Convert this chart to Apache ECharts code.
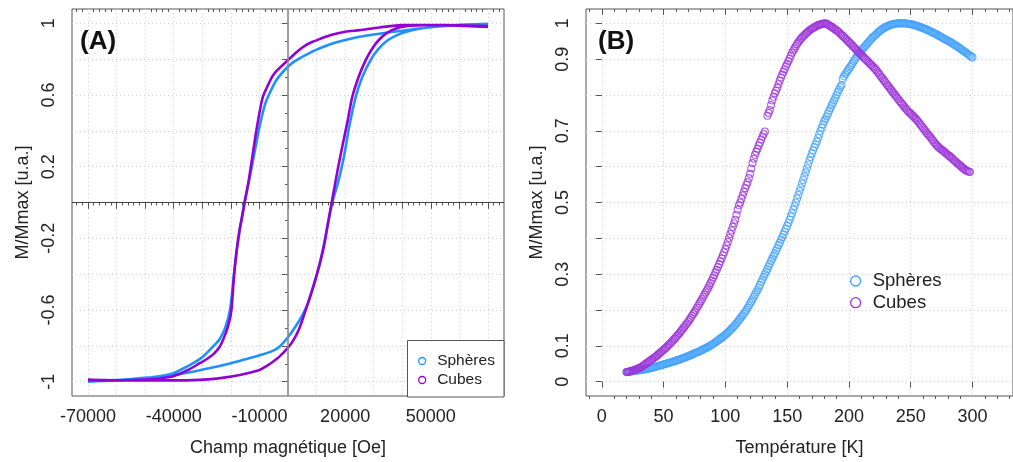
<!DOCTYPE html>
<html><head><meta charset="utf-8">
<script src="https://cdn.jsdelivr.net/npm/echarts@6.0.0/dist/echarts.min.js"></script>
<style>html,body{margin:0;padding:0;background:#fff}#c{width:1013px;height:462px}</style>
</head><body><div id="c"></div><script>
// ---------- Panel A : hysteresis loops (field in Oe, normalized magnetization) ----------
const sphDownField = [70000,65000,60000,55000,50000,45000,40000,35000,30000,25000,20000,15000,10000,7000,4000,2000,0,-2000,-4000,-6000,-8000,-10000,-12000,-13500,-15200,-16900,-18700,-20300,-22000,-24000,-26300,-29700,-32000,-35500,-40200,-45000,-50000,-55000,-60000,-65000,-70000];
const sphDownMag   = [0.995,0.994,0.992,0.986,0.978,0.969,0.959,0.949,0.938,0.925,0.907,0.885,0.853,0.83,0.805,0.785,0.758,0.725,0.685,0.625,0.55,0.42,0.255,0.13,0.0,-0.15,-0.37,-0.6,-0.70,-0.765,-0.805,-0.86,-0.885,-0.917,-0.953,-0.97,-0.98,-0.988,-0.993,-0.996,-1.0];
const sphUpField   = [-70000,-62000,-55000,-48000,-42000,-38000,-32000,-26000,-20000,-15000,-9000,-5000,-3000,0,2800,5000,7000,9000,11000,13000,15500,17500,19500,21500,23700,26000,28900,31500,35000,39000,43000,48000,55000,62000,70000];
const sphUpMag     = [-1.0,-0.993,-0.985,-0.975,-0.965,-0.957,-0.94,-0.92,-0.897,-0.875,-0.848,-0.825,-0.805,-0.752,-0.688,-0.63,-0.56,-0.46,-0.35,-0.2,0.0,0.11,0.25,0.43,0.59,0.70,0.795,0.855,0.907,0.94,0.96,0.975,0.986,0.993,0.997];
const cubDownField = [70000,62000,55000,48000,40000,32000,25000,20000,15000,11000,8600,6000,3900,2000,0,-2000,-4000,-5400,-7000,-8800,-10000,-11500,-13000,-14000,-15200,-16000,-17000,-18000,-19000,-19800,-20800,-22300,-23900,-26000,-28500,-30900,-35000,-40200,-45000,-50000,-57000,-63000,-70000];
const cubDownMag   = [0.98,0.985,0.99,0.99,0.99,0.977,0.962,0.953,0.935,0.912,0.897,0.876,0.851,0.825,0.795,0.765,0.735,0.705,0.655,0.59,0.5,0.36,0.2,0.1,0.0,-0.075,-0.16,-0.27,-0.43,-0.6,-0.68,-0.75,-0.805,-0.845,-0.875,-0.897,-0.935,-0.97,-0.982,-0.988,-0.992,-0.993,-0.99];
const cubUpField   = [-70000,-60000,-50000,-40000,-30900,-25000,-19300,-14600,-10000,-7700,-5400,-3000,0,2000,3900,6300,8600,10900,12500,13800,15300,17000,19000,20800,22500,24800,27200,29500,31800,34500,37600,42000,48000,55000,62000,70000];
const cubUpMag     = [-0.99,-0.992,-0.993,-0.993,-0.99,-0.983,-0.97,-0.955,-0.935,-0.915,-0.89,-0.86,-0.81,-0.765,-0.706,-0.595,-0.484,-0.354,-0.25,-0.132,0.0,0.15,0.313,0.45,0.59,0.705,0.795,0.86,0.907,0.945,0.97,0.985,0.99,0.99,0.988,0.985];

// ---------- Panel B : M(T) curves, one reading per kelvin ----------
const sphTemps = [
  20,21,22,23,24,25,26,27,28,29, 30,31,32,33,34,35,36,37,38,39, 40,41,42,43,44,45,46,47,48,49,
  50,51,52,53,54,55,56,57,58,59, 60,61,62,63,64,65,66,67,68,69, 70,71,72,73,74,75,76,77,78,79,
  80,81,82,83,84,85,86,87,88,89, 90,91,92,93,94,95,96,97,98,99, 100,101,102,103,104,105,106,107,108,109,
  110,111,112,113,114,115,116,117,118,119, 120,121,122,123,124,125,126,127,128,129, 130,131,132,133,134,135,136,137,138,139,
  140,141,142,143,144,145,146,147,148,149, 150,151,152,153,154,155,156,157,158,159, 160,161,162,163,164,165,166,167,168,169,
  170,171,172,173,174,175,176,177,178,179, 180,181,182,183,184,185,186,187,188,189, 190,191,192,193,194,195,196,197,198,199,
  200,201,202,203,204,205,206,207,208,209, 210,211,212,213,214,215,216,217,218,219, 220,221,222,223,224,225,226,227,228,229,
  230,231,232,233,234,235,236,237,238,239, 240,241,242,243,244,245,246,247,248,249, 250,251,252,253,254,255,256,257,258,259,
  260,261,262,263,264,265,266,267,268,269, 270,271,272,273,274,275,276,277,278,279, 280,281,282,283,284,285,286,287,288,289,
  290,291,292,293,294,295,296,297,298,299, 300];
const sphMag = [
  .027,.027,.028,.028,.029,.029,.030,.030,.031,.031, .032,.032,.033,.033,.034,.035,.035,.036,.037,.037, .038,.039,.040,.041,.042,.043,.044,.045,.046,.047,
  .048,.049,.050,.051,.052,.053,.054,.055,.056,.057, .058,.060,.061,.062,.063,.065,.066,.067,.068,.070, .071,.073,.074,.076,.077,.079,.080,.082,.083,.085,
  .086,.088,.090,.092,.093,.095,.097,.099,.101,.103, .105,.108,.110,.113,.115,.118,.120,.123,.125,.128, .131,.134,.137,.141,.144,.148,.151,.155,.159,.163,
  .167,.172,.176,.181,.185,.190,.195,.200,.206,.212, .218,.224,.230,.237,.243,.250,.256,.263,.270,.278, .285,.293,.300,.307,.314,.322,.329,.337,.344,.351,
  .358,.366,.373,.381,.388,.396,.403,.411,.419,.427, .435,.443,.452,.461,.470,.480,.490,.500,.511,.521, .532,.542,.553,.563,.573,.584,.595,.606,.617,.627,
  .637,.646,.655,.662,.670,.680,.690,.700,.709,.718, .727,.733,.740,.748,.756,.763,.771,.778,.785,.792, .800,.808,.815,.822,.828,.845,.852,.858,.863,.868,
  .873,.878,.883,.889,.895,.900,.905,.910,.915,.920, .924,.928,.932,.936,.940,.944,.948,.952,.956,.960, .963,.966,.969,.973,.976,.979,.981,.984,.986,.988,
  .990,.992,.993,.995,.996,.997,.998,.999,.999,1.000, 1.000,1.000,1.000,1.000,1.000,1.000,1.000,.999,.999,.998, .998,.997,.996,.995,.994,.993,.992,.990,.989,.988,
  .987,.985,.984,.982,.981,.979,.977,.976,.974,.972, .971,.969,.967,.965,.963,.961,.959,.957,.955,.953, .952,.950,.948,.946,.944,.941,.939,.937,.935,.932,
  .930,.927,.925,.922,.920,.917,.915,.912,.910,.907, .905];
const cubTemps = [
  20,21,22,23,24,25,26,27,28,29, 30,31,32,33,34,35,36,37,38,39, 40,41,42,43,44,45,46,47,48,49,
  50,51,52,53,54,55,56,57,58,59, 60,61,62,63,64,65,66,67,68,69, 70,71,72,73,74,75,76,77,78,79,
  80,81,82,83,84,85,86,87,88,89, 90,91,92,93,94,95,96,97,98,99, 100,101,102,103,104,105,106,107,108,109,
  110,111,112,113,114,115,116,117,118,119, 120,121,122,123,124,125,126,127,128,129, 130,131,132,134,135,136,137,138,139,
  140,141,142,143,144,145,146,147,148,149, 150,151,152,153,154,155,156,157,158,159, 160,161,162,163,164,165,166,167,168,169,
  170,171,172,173,174,175,176,177,178,179, 180,181,182,183,184,185,186,187,188,189, 190,191,192,193,194,195,196,197,198,199,
  200,201,202,203,204,205,206,207,208,209, 210,211,212,213,214,215,216,217,218,219, 220,221,222,223,224,225,226,227,228,229,
  230,231,232,233,234,235,236,237,238,239, 240,241,242,243,244,245,246,247,248,249, 250,251,252,253,254,255,256,257,258,259,
  260,261,262,263,264,265,266,267,268,269, 270,271,272,273,274,275,276,277,278,279, 280,281,282,283,284,285,286,287,288,289,
  290,291,292,293,294,295,296,297,298];
const cubMag = [
  .027,.027,.028,.029,.030,.031,.032,.033,.035,.036, .038,.039,.041,.043,.046,.048,.051,.053,.056,.058, .061,.063,.066,.068,.071,.074,.077,.080,.083,.086,
  .089,.092,.095,.098,.102,.105,.109,.113,.117,.120, .124,.128,.132,.136,.141,.145,.150,.154,.159,.163, .168,.173,.178,.184,.189,.194,.200,.206,.212,.218,
  .224,.230,.237,.243,.249,.255,.261,.268,.275,.282, .290,.297,.305,.312,.320,.328,.336,.344,.353,.361, .370,.380,.390,.401,.412,.422,.432,.442,.452,.466,
  .480,.492,.500,.510,.520,.530,.540,.549,.557,.568, .580,.595,.610,.622,.633,.642,.650,.659,.667,.676, .684,.691,.698,.742,.750,.758,.772,.785,.795,
  .805,.812,.820,.830,.840,.849,.857,.865,.872,.880, .887,.895,.902,.910,.918,.924,.930,.936,.942,.947, .952,.956,.960,.964,.967,.971,.974,.977,.980,.983,
  .985,.987,.989,.991,.993,.995,.996,.997,.998,.999, 1.000,1.000,.999,.997,.994,.992,.990,.988,.985,.983, .980,.978,.975,.971,.968,.965,.962,.958,.955,.951,
  .948,.944,.941,.937,.934,.930,.926,.923,.919,.915, .912,.908,.905,.901,.898,.894,.891,.887,.884,.880, .877,.873,.870,.865,.861,.856,.851,.847,.842,.838,
  .833,.828,.824,.819,.815,.810,.806,.801,.797,.792, .788,.783,.779,.775,.771,.766,.762,.758,.754,.751, .748,.744,.741,.737,.734,.730,.726,.721,.717,.712,
  .708,.703,.699,.694,.690,.686,.682,.677,.673,.668, .664,.660,.656,.653,.650,.647,.645,.642,.639,.636, .633,.630,.628,.625,.622,.618,.615,.612,.609,.606,
  .603,.600,.597,.594,.591,.589,.588,.586,.585];

// ---------- ticks & labels ----------
const fieldTicks  = [-70000,-60000,-50000,-40000,-30000,-20000,-10000,0,10000,20000,30000,40000,50000,60000,70000];
const fieldLabels = [-70000,-40000,-10000,20000,50000];
const magTicksA   = [-1,-0.8,-0.6,-0.4,-0.2,0,0.2,0.4,0.6,0.8,1];
const magLabelsA  = [-1,-0.6,-0.2,0.2,0.6,1];
const tempTicks   = [0,50,100,150,200,250,300];
const tempLabels  = [0,50,100,150,200,250,300];
const magTicksB   = [0,0.1,0.2,0.3,0.4,0.5,0.6,0.7,0.8,0.9,1];
const magLabelsB  = [0,0.1,0.3,0.5,0.7,0.9,1];

function minorList(lo, hi, step, major) {
  const out = [];
  const n = Math.round((hi - lo) / step);
  for (let i = 0; i <= n; i++) {
    const v = Math.round((lo + i * step) * 1e6) / 1e6;
    const q = v / major;
    if (Math.abs(q - Math.round(q)) > 1e-6) out.push(v);
  }
  return out;
}
const pairs = (xs, ys) => ys.map((y, i) => [xs[i], y]);

const FONT = 'Liberation Sans, Arial, sans-serif';
const AX = '#555', TXT = '#222', GRIDC = '#cdcdcd';
const BLUE = '#1E90FF', PURPLE = '#9400D3';
const BLUEB = '#45A2FF', PURPLEB = '#9E35D8';

function xAxisDef(grid, min, max, pos, ticks, len, inside, labels, split, name) {
  return {
    type: 'value', gridIndex: grid, min: min, max: max, position: pos,
    axisLine: { show: false },
    axisTick: { show: true, customValues: ticks, length: len, inside: inside, lineStyle: { color: AX, width: 1 } },
    axisLabel: labels ? { show: true, customValues: labels, fontSize: 18, color: TXT, fontFamily: FONT, margin: 12, formatter: v => String(v) } : { show: false },
    splitLine: { show: !!split, lineStyle: { type: [1, 3], color: GRIDC, width: 1 } },
    name: name || '', nameLocation: 'middle', nameGap: 43,
    nameTextStyle: { fontSize: 18, color: TXT, fontFamily: FONT }
  };
}
function yAxisDef(grid, min, max, pos, ticks, len, inside, labels, split, name) {
  return {
    type: 'value', gridIndex: grid, min: min, max: max, position: pos,
    axisLine: { show: false },
    axisTick: { show: true, customValues: ticks, length: len, inside: inside, lineStyle: { color: AX, width: 1 } },
    axisLabel: labels ? { show: true, customValues: labels, rotate: 90, fontSize: 18, color: TXT, fontFamily: FONT, margin: 14, formatter: v => String(v) } : { show: false },
    splitLine: { show: !!split, lineStyle: { type: [1, 3], color: GRIDC, width: 1 } },
    name: name || '', nameLocation: 'middle', nameGap: 40, nameRotate: 90,
    nameTextStyle: { fontSize: 18, color: TXT, fontFamily: FONT }
  };
}

const fMin = -75600, fMax = 75600;
const tMin = -12.8, tMax = 332.8;

const option = {
  animation: false,
  backgroundColor: '#fff',
  grid: [
    { left: 72, top: 9, width: 432, height: 388, show: true, borderColor: AX, borderWidth: 1, backgroundColor: 'rgba(0,0,0,0)', containLabel: false },
    { left: 586, top: 9, width: 434, height: 388, show: true, borderColor: AX, borderWidth: 1, backgroundColor: 'rgba(0,0,0,0)', containLabel: false }
  ],
  xAxis: [
    xAxisDef(0, fMin, fMax, 'bottom', fieldTicks, 6, false, fieldLabels, true, 'Champ magnétique [Oe]'),
    xAxisDef(0, fMin, fMax, 'bottom', minorList(-74000, 74000, 2000, 10000), 3, false, null, false),
    xAxisDef(0, fMin, fMax, 'top', fieldTicks, 6, true, null, false),
    xAxisDef(0, fMin, fMax, 'top', minorList(-74000, 74000, 2000, 10000), 3, true, null, false),
    xAxisDef(1, tMin, tMax, 'bottom', tempTicks, 6, false, tempLabels, true, 'Température [K]'),
    xAxisDef(1, tMin, tMax, 'bottom', minorList(-10, 330, 10, 50), 3, false, null, false),
    xAxisDef(1, tMin, tMax, 'top', tempTicks, 6, true, null, false),
    xAxisDef(1, tMin, tMax, 'top', minorList(-10, 330, 10, 50), 3, true, null, false)
  ],
  yAxis: [
    yAxisDef(0, -1.08, 1.08, 'left', magTicksA, 6, false, magLabelsA, true, 'M/Mmax [u.a.]'),
    yAxisDef(0, -1.08, 1.08, 'right', magTicksA, 5, true, null, false),
    yAxisDef(0, -1.08, 1.08, 'right', minorList(-1, 1, 0.1, 0.2), 3, true, null, false),
    yAxisDef(1, -0.04, 1.04, 'left', magTicksB, 6, false, magLabelsB, true, 'M/Mmax [u.a.]')
  ],
  graphic: [
    { type: 'text', left: 80, top: 29, z: 10, style: { text: '(A)', font: 'bold 26px ' + FONT, fill: '#111' } },
    { type: 'text', left: 598, top: 29, z: 10, style: { text: '(B)', font: 'bold 26px ' + FONT, fill: '#111' } },
    { type: 'rect', z: 3, shape: { x: 407.5, y: 340.5, width: 96.5, height: 56.5 }, style: { fill: '#fff', stroke: AX, lineWidth: 1 } }
  ],
  legend: [
    {
      orient: 'vertical', left: 418, top: 353, padding: 0, itemGap: 3, itemWidth: 20, itemHeight: 7, z: 5,
      selectedMode: false, icon: 'circle',
      textStyle: { fontSize: 15.5, lineHeight: 16, color: TXT, fontFamily: FONT },
      data: [
        { name: 'Sphères', icon: 'circle', itemStyle: { color: 'rgba(0,0,0,0)', borderColor: BLUE, borderWidth: 1.3 } },
        { name: 'Cubes', icon: 'circle', itemStyle: { color: 'rgba(0,0,0,0)', borderColor: PURPLE, borderWidth: 1.3 } }
      ]
    },
    {
      orient: 'vertical', left: 850, top: 271.5, padding: 0, itemGap: 2.7, itemWidth: 24, itemHeight: 10,
      selectedMode: false, icon: 'circle',
      textStyle: { fontSize: 18.5, lineHeight: 19, color: TXT, fontFamily: FONT },
      data: [
        { name: 'Sphères', icon: 'circle', itemStyle: { color: 'rgba(0,0,0,0)', borderColor: BLUEB, borderWidth: 1.3 } },
        { name: 'Cubes', icon: 'circle', itemStyle: { color: 'rgba(0,0,0,0)', borderColor: PURPLEB, borderWidth: 1.3 } }
      ]
    }
  ],
  series: [
    {
      name: 'Sphères', type: 'line', xAxisIndex: 0, yAxisIndex: 0, showSymbol: false, symbol: 'none', smooth: 0.25,
      lineStyle: { color: BLUE, width: 2.6 }, itemStyle: { color: BLUE }, z: 2,
      data: pairs(sphDownField, sphDownMag).concat(pairs(sphUpField, sphUpMag)),
      markLine: {
        silent: true, symbol: ['none', 'none'], label: { show: false }, animation: false,
        data: [
          { xAxis: 0, lineStyle: { color: '#8a8a8a', width: 1.6, type: 'solid' } },
          { yAxis: 0, lineStyle: { color: '#444', width: 1.2, type: 'solid' } }
        ]
      }
    },
    {
      name: 'Cubes', type: 'line', xAxisIndex: 0, yAxisIndex: 0, showSymbol: false, symbol: 'none', smooth: 0.25,
      lineStyle: { color: PURPLE, width: 2.6 }, itemStyle: { color: PURPLE }, z: 2,
      data: pairs(cubDownField, cubDownMag).concat(pairs(cubUpField, cubUpMag))
    },
    {
      name: 'Sphères', type: 'scatter', xAxisIndex: 4, yAxisIndex: 3, symbol: 'circle', symbolSize: 7,
      itemStyle: { color: 'rgba(0,0,0,0)', borderColor: BLUEB, borderWidth: 1.1 },
      data: pairs(sphTemps, sphMag)
    },
    {
      name: 'Cubes', type: 'scatter', xAxisIndex: 4, yAxisIndex: 3, symbol: 'circle', symbolSize: 7,
      itemStyle: { color: 'rgba(0,0,0,0)', borderColor: PURPLEB, borderWidth: 1.1 },
      data: pairs(cubTemps, cubMag)
    }
  ]
};
const chart = echarts.init(document.getElementById('c'), null, { renderer: 'canvas' });
chart.setOption(option);
</script></body></html>
